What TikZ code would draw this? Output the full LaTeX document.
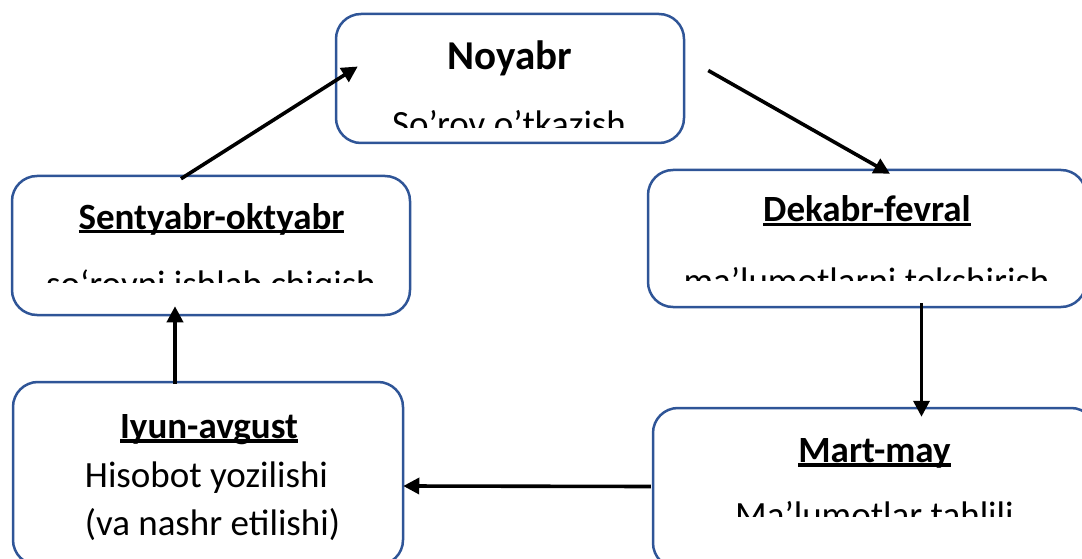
\documentclass[tikz,border=0pt]{standalone}
\usepackage{fontspec}
\setmainfont{Carlito}
\usetikzlibrary{arrows.meta,calc}
\definecolor{boxblue}{RGB}{47,85,151}
% thick underline for the month titles
\newcommand{\monthul}[1]{\setbox0=\hbox{#1}\rlap{\rule[-4.5pt]{\wd0}{3.2pt}}\box0}
\begin{document}
\begin{tikzpicture}[x=1pt,y=-1pt,
    stagebox/.style={rectangle,draw=boxblue,line width=2.5pt,rounded corners=25pt,inner sep=0pt},
    ttl/.style={inner sep=0pt,anchor=base,font=\fontsize{37}{44}\selectfont\bfseries},
    txt/.style={inner sep=0pt,anchor=base,font=\fontsize{37}{44}\selectfont},
    flow/.style={line width=3.6pt,-{Triangle[length=16pt,width=16pt]}}]
    \clip (0,0) rectangle (1082,559);
    % Boxes
    \node[stagebox,minimum width=348pt,minimum height=129pt] (nov) at (510,78.5){};
    \node[stagebox,minimum width=398pt,minimum height=139pt] (sep) at (211,245.5){};
    \node[stagebox,minimum width=438pt,minimum height=137pt] (dek) at (867,238.5){};
    \node[stagebox,minimum width=443pt,minimum height=160pt] (mar) at (874.5,488){};
    \node[stagebox,minimum width=390pt,minimum height=183pt] (iyu) at (208,473.5){};
    % Titles
    \node[ttl,font=\fontsize{41}{48}\selectfont\bfseries] (novT) at (510,70){Noyabr};
    \node[ttl] (sepT) at (211.5,229){\monthul{Sentyabr-oktyabr}};
    \node[ttl] (dekT) at (867,222){\monthul{Dekabr-fevral}};
    \node[ttl] (marT) at (874.5,462){\monthul{Mart-may}};
    \node[ttl] (iyuT) at (209,438){\monthul{Iyun-avgust}};
    % Texts
    \begin{scope}
        \clip (336,0) rectangle (684,128);
        \node[txt] (novS) at (509,137){So’rov o’tkazish};
    \end{scope}
    \begin{scope}
        \clip (12,176) rectangle (410,282);
        \node[txt] (sepS) at (211,296){so‘rovni ishlab chiqish};
    \end{scope}
    \begin{scope}
        \clip (648,170) rectangle (1082,280.5);
        \node[txt] (dekS) at (866.5,293){ma’lumotlarni tekshirish};
    \end{scope}
    \begin{scope}
        \clip (653,408) rectangle (1082,516.5);
        \node[txt] (marS) at (874.5,527){Ma’lumotlar tahlili};
    \end{scope}
    \node[txt] (iyuS) at (206.5,487){Hisobot yozilishi};
    \node[txt] (iyuR) at (212.5,535){(va nashr etilishi)};
    % Arrows
    \draw[flow] ($(sep.north)+(-30,4)$) -- ($(nov.west)+(23,-12)$);
    \draw[flow] ($(nov.east)+(23,-8)$) -- ($(dek.north)+(23,5)$);
    \draw[flow] ($(dek.south)+(54.5,-5)$) -- ($(mar.north)+(47,10)$);
    \draw[flow] ($(mar.west)+(-1,-1.5)$) -- ($(iyu.east)+(-1,12.5)$);
    \draw[flow] ($(iyu.north)+(-33,3)$) -- ($(sep.south)+(-36,-10)$);
\end{tikzpicture}
\end{document}
